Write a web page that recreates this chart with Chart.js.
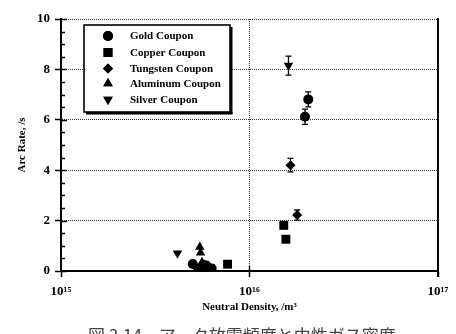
<!DOCTYPE html>
<html><head><meta charset="utf-8">
<script src="https://cdn.jsdelivr.net/npm/chart.js@4.4.1/dist/chart.umd.min.js"></script>
<style>html,body{margin:0;padding:0;background:#fff}#wrap{width:456px;height:334px;position:relative}</style>
</head><body><div id="wrap"><canvas id="c" width="456" height="334"></canvas></div>
<script>
// ---- data ----
const seriesNames = ['Gold Coupon','Copper Coupon','Tungsten Coupon','Aluminum Coupon','Silver Coupon'];
const goldX = [5.0e15, 5.5e15, 5.9e15, 6.3e15, 1.97e16, 2.05e16];
const goldY = [0.28, 0.12, 0.22, 0.10, 6.12, 6.81];
const goldErr = [0, 0, 0, 0, 0.30, 0.30];
const copperX = [5.3e15, 6.2e15, 7.65e15, 1.52e16, 1.56e16];
const copperY = [0.05, 0.10, 0.27, 1.81, 1.26];
const copperErr = [0, 0, 0, 0, 0];
const tungstenX = [5.5e15, 5.8e15, 6.1e15, 1.65e16, 1.79e16];
const tungstenY = [0.05, 0.25, 0.15, 4.20, 2.22];
const tungstenErr = [0, 0, 0, 0.27, 0.20];
const aluminumX = [5.45e15, 5.5e15, 5.6e15];
const aluminumY = [0.95, 0.72, 0.35];
const aluminumErr = [0, 0, 0];
const silverX = [4.15e15, 1.61e16];
const silverY = [0.70, 8.15];
const silverErr = [0, 0.38];
const xTickValues = [1e15, 1e16, 1e17];
const xTickLabels = ['10¹⁵', '10¹⁶', '10¹⁷'];
const yMin = 0, yMax = 10, yStep = 2;
const xTitle = 'Neutral Density, /m³';
const yTitle = 'Arc Rate, /s';
const caption = '図 3.14　アーク放電頻度と中性ガス密度';

const serif = '"Liberation Serif", "Times New Roman", serif';
const zip = (xs, ys) => xs.map((x, i) => ({x, y: ys[i]}));
const styles = [
  {pointStyle:'circle', radius:5, rot:0},
  {pointStyle:'rect', radius:6.3, rot:0},
  {pointStyle:'rectRot', radius:5, rot:0},
  {pointStyle:'triangle', radius:5.5, rot:0},
  {pointStyle:'triangle', radius:5.5, rot:180}
];
const xs = [goldX, copperX, tungstenX, aluminumX, silverX];
const ys = [goldY, copperY, tungstenY, aluminumY, silverY];
const errs = [goldErr, copperErr, tungstenErr, aluminumErr, silverErr];

const datasets = seriesNames.map((n, i) => ({
  label: n,
  data: zip(xs[i], ys[i]),
  errors: errs[i],
  pointStyle: styles[i].pointStyle,
  pointRadius: styles[i].radius,
  pointHoverRadius: styles[i].radius,
  rotation: styles[i].rot,
  backgroundColor: '#000',
  borderColor: '#000',
  borderWidth: 0,
  showLine: false
}));

const extras = {
  id: 'extras',
  beforeDatasetsDraw(chart) {
    const {ctx} = chart;
    const x = chart.scales.x, y = chart.scales.y;
    ctx.save();
    ctx.setLineDash([]);
    ctx.strokeStyle = '#000'; ctx.lineWidth = 1.5;
    // left axis and bottom axis solid
    ctx.lineWidth = 2;
    ctx.beginPath(); ctx.moveTo(x.left, y.top - 1); ctx.lineTo(x.left, y.bottom + 1); ctx.stroke();
    ctx.beginPath(); ctx.moveTo(x.left, y.bottom); ctx.lineTo(x.right + 1, y.bottom); ctx.stroke();
    ctx.lineWidth = 1.5;
    // minor y ticks inward
    for (let v = yMin; v <= yMax; v += 0.5) {
      const py = Math.round(y.getPixelForValue(v)) + 0.5;
      const len = (v % yStep === 0) ? 6 : 4;
      ctx.beginPath(); ctx.moveTo(x.left, py); ctx.lineTo(x.left + len, py); ctx.stroke();
    }
    // right frame line
    const rx = x.getPixelForValue(1e17);
    ctx.lineWidth = 2;
    ctx.beginPath(); ctx.moveTo(rx, y.top - 1); ctx.lineTo(rx, y.bottom + 6); ctx.stroke();
    // x tick crossing axis upward
    ctx.lineWidth = 1.5;
    xTickValues.forEach(v => {
      const px = x.getPixelForValue(v);
      ctx.beginPath(); ctx.moveTo(px, y.bottom - 5); ctx.lineTo(px, y.bottom); ctx.stroke();
    });
    ctx.restore();
  },
  afterDatasetsDraw(chart) {
    const {ctx} = chart;
    const x = chart.scales.x, y = chart.scales.y;
    ctx.save();
    ctx.setLineDash([]);
    ctx.strokeStyle = '#000'; ctx.lineWidth = 1.3;
    chart.data.datasets.forEach(ds => {
      ds.data.forEach((p, i) => {
        const e = ds.errors[i];
        if (!e) return;
        const px = x.getPixelForValue(p.x);
        const y1 = y.getPixelForValue(p.y - e), y2 = y.getPixelForValue(p.y + e);
        ctx.beginPath();
        ctx.moveTo(px, y1); ctx.lineTo(px, y2);
        ctx.moveTo(px - 3, y1); ctx.lineTo(px + 3, y1);
        ctx.moveTo(px - 3, y2); ctx.lineTo(px + 3, y2);
        ctx.stroke();
      });
    });
    ctx.restore();
  },
  afterDraw(chart) {
    const {ctx} = chart;
    const x = chart.scales.x, y = chart.scales.y;
    ctx.save();
    ctx.setLineDash([]);
    // legend box
    const L = 84, T = 25, W = 146, H = 87;
    ctx.fillStyle = '#fff';
    ctx.fillRect(L, T, W, H);
    ctx.fillStyle = '#000';
    ctx.fillRect(L + W, T + 2, 2.5, H);
    ctx.fillRect(L + 2, T + H, W + 0.5, 2.5);
    ctx.strokeStyle = '#000'; ctx.lineWidth = 1.6;
    ctx.strokeRect(L, T, W, H);
    const rows = [36, 52.5, 68.5, 83.5, 99.5];
    ctx.font = 'bold 11px ' + serif;
    ctx.textBaseline = 'middle'; ctx.textAlign = 'left';
    chart.data.datasets.forEach((ds, i) => {
      Chart.helpers.drawPoint(ctx, {pointStyle: ds.pointStyle, radius: ds.pointRadius, rotation: ds.rotation, borderWidth: 0}, 108, rows[i]);
      ctx.fillStyle = '#000'; ctx.strokeStyle = '#000';
      ctx.fill();
      ctx.fillText(ds.label, 130, rows[i] + 0.5);
    });
    // axis titles
    ctx.fillStyle = '#000';
    ctx.font = 'bold 11px ' + serif;
    ctx.textAlign = 'center';
    ctx.fillText(xTitle, (x.left + x.right) / 2, 307);
    ctx.save();
    ctx.translate(22, (y.top + y.bottom) / 2);
    ctx.rotate(-Math.PI / 2);
    ctx.fillText(yTitle, 0, 0);
    ctx.restore();
    // caption
    ctx.fillStyle = '#444';
    ctx.font = '17px "Noto Sans CJK JP", sans-serif';
    ctx.textAlign = 'left'; ctx.textBaseline = 'alphabetic';
    ctx.fillText(caption, 88, 342);
    ctx.restore();
  }
};

new Chart(document.getElementById('c'), {
  type: 'scatter',
  data: {datasets},
  options: {
    responsive: false, animation: false, devicePixelRatio: 1,
    layout: {padding: {top: 19, right: 18, left: 0, bottom: 0}},
    plugins: {legend: {display: false}, tooltip: {enabled: false}},
    scales: {
      x: {
        type: 'logarithmic', min: 1e15, max: 1e17,
        afterBuildTicks: s => { s.ticks = xTickValues.map(v => ({value: v})); },
        afterFit: s => { s.height = 63; },
        ticks: {
          autoSkip: false, maxRotation: 0, padding: 7, color: '#000',
          font: {family: serif, size: 13, weight: 'bold'},
          callback: (v) => { const i = xTickValues.indexOf(v); return i >= 0 ? xTickLabels[i] : ''; }
        },
        grid: {
          color: c => (c.tick && c.tick.value === 1e16) ? '#333' : 'rgba(0,0,0,0)',
          tickColor: '#000', tickLength: 6, lineWidth: 1, tickWidth: 1.5,
          tickBorderDash: []
        },
        border: {display: true, color: '#000', width: 2, dash: [1, 1]}
      },
      y: {
        min: yMin, max: yMax,
        afterFit: s => { s.width = 61; },
        ticks: {stepSize: yStep, padding: 5, color: '#000', font: {family: serif, size: 13, weight: 'bold'}},
        grid: {color: '#333', tickColor: '#000', tickLength: 6, lineWidth: 1, tickWidth: 1.5, tickBorderDash: []},
        border: {display: true, color: '#000', width: 2, dash: [1, 1]}
      }
    }
  },
  plugins: [extras]
});
</script>
</body></html>
